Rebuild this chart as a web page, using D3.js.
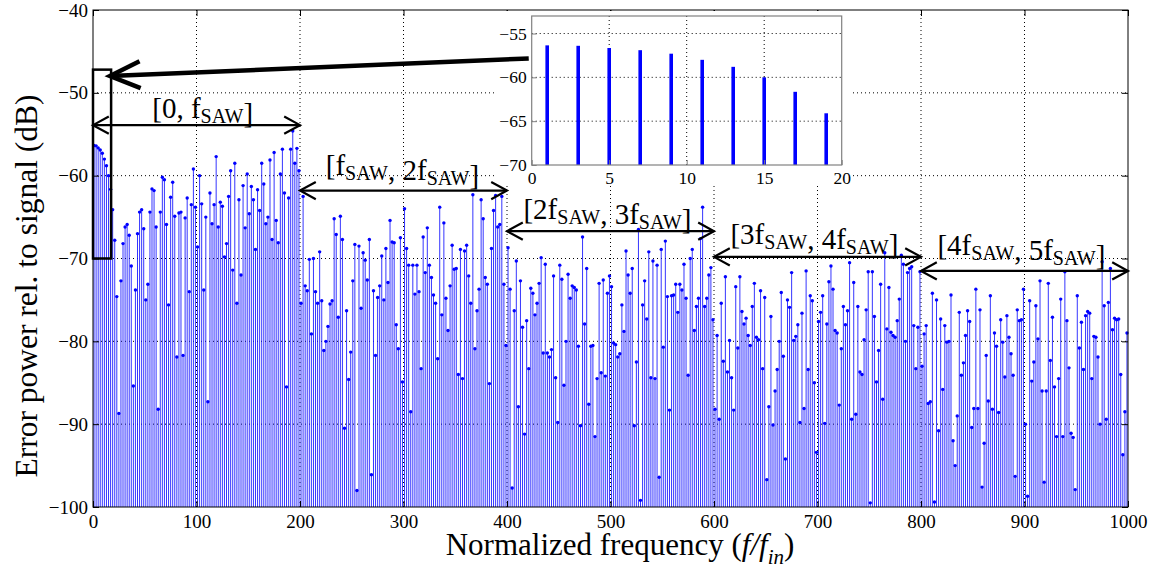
<!DOCTYPE html>
<html>
<head>
<meta charset="utf-8">
<script src="https://cdn.jsdelivr.net/npm/d3@7"></script>
<style>
  body { margin: 0; background: #fff; }
  svg text { font-family: "Liberation Serif", "Times New Roman", serif; fill: #000; }
</style>
</head>
<body>
<div class="canvas"></div>
<script>
// odd harmonic orders f/fin, 1..999
const harmonics = d3.range(1, 1000, 2);

// error power (dB), one array per fSAW band
const band1 = [-56.35,-56.4,-56.65,-56.9,-57.3,-58.0,-58.8,-60.0,-61.65,-64.1,
  -67.8,-74.6,-88.7,-72.7,-68.2,-66.2,-65.9,-67.2,-70.9,-85.4,
  -73.8,-67.0,-64.4,-64.1,-66.4,-75.0,-73.1,-64.4,-61.6,-61.8,
  -66.2,-88.2,-64.4,-60.2,-60.5,-65.9,-75.6,-62.6,-60.8,-64.9,
  -81.9,-64.5,-64.4,-81.7,-65.1,-62.7,-74.0,-63.5,-59.2,-63.8,
  -68.6,-60.0,-63.4,-73.8,-65.0,-87.3,-62.1,-65.8,-63.5,-57.7,
  -66.2,-63.2,-63.7,-69.8,-68.2,-62.5,-59.4,-71.4,-58.5,-75.4,
  -62.9,-72.0,-61.2,-66.3,-59.8,-64.6,-61.3,-62.9,-68.9,-61.7,
  -64.2,-58.5,-61.0,-65.8,-65.0,-58.1,-67.7,-57.2,-65.4,-68.1,
  -59.8,-56.8,-62.1,-85.5,-62.7,-56.8,-54.6,-58.5,-56.7,-59.4];
const band2 = [-75.4,-62.5,-73.3,-73.9,-70.1,-79.1,-70.0,-74.0,-75.4,-69.2,
  -75.1,-81.1,-80.0,-78.2,-75.5,-75.1,-65.2,-67.1,-77.1,-64.9,
  -67.7,-90.5,-76.3,-84.6,-81.3,-72.7,-68.3,-98.0,-68.5,-76.0,
  -69.3,-70.2,-72.6,-67.7,-96.1,-73.9,-81.7,-74.7,-73.3,-69.7,
  -75.0,-68.8,-72.9,-65.4,-68.0,-68.1,-78.0,-80.9,-67.5,-84.9,
  -64.0,-68.8,-70.8,-88.5,-70.8,-74.3,-70.8,-74.0,-83.3,-67.4,
  -71.7,-66.3,-70.8,-72.3,-74.4,-75.4,-82.1,-63.8,-76.8,-65.7,
  -74.8,-78.7,-73.3,-68.4,-71.3,-71.2,-84.0,-68.9,-84.5,-69.1,
  -68.4,-72.1,-75.4,-62.3,-80.9,-76.3,-73.7,-62.9,-65.2,-72.3,
  -73.1,-85.1,-68.8,-64.2,-62.4,-66.2,-65.9,-62.5,-73.1,-80.5];
const band3 = [-68.7,-73.7,-97.7,-76.3,-70.3,-87.9,
  -72.7,-78.3,-91.2,-77.5,-83.3,-73.6,-74.2,-76.8,-75.4,-73.0,
  -69.9,-81.4,-70.7,-81.4,-81.9,-81.0,-72.1,-84.4,-89.8,-70.8,
  -72.5,-85.3,-80.0,-71.9,-74.8,-73.3,-73.5,-73.8,-80.6,-90.2,
  -67.4,-77.9,-71.2,-87.6,-80.6,-80.5,-91.5,-84.5,-73.0,-83.8,
  -72.6,-84.2,-74.2,-72.1,-73.4,-80.2,-80.4,-81.9,-81.5,-75.6,
  -78.8,-69.1,-72.0,-74.2,-71.2,-90.2,-82.5,-66.5,-99.2,-75.6,
  -72.7,-77.3,-69.2,-84.4,-70.3,-84.5,-70.8,-96.4,-68.9,-80.7,
  -67.9,-74.6,-88.3,-74.5,-74.4,-73.1,-76.5,-73.1,-73.8,-70.7,
  -74.8,-84.1,-70.0,-68.9,-78.7,-75.8,-74.8,-67.6,-63.8,
  -75.8,-74.8,-72.0,-71.1,-77.4];
const band4 = [-88.2,-79.3,-89.4,-75.4,-82.4,-72.2,-83.7,-79.9,-84.4,-88.3,
  -73.4,-80.8,-72.2,-76.4,-77.9,-77.2,-79.3,-80.5,-75.8,-73.0,
  -79.5,-79.8,-73.9,-83.3,-74.7,-96.7,-87.9,-77.0,-90.1,-86.0,
  -83.4,-80.0,-74.1,-81.8,-94.2,-75.0,-75.9,-71.7,-79.9,-79.4,
  -78.0,-89.8,-76.6,-88.1,-71.5,-83.4,-74.5,-75.1,-85.0,-93.4,
  -77.6,-76.5,-74.5,-89.9,-77.9,-72.8,-70.9,-73.7,-78.7,-79.0,
  -87.7,-80.9,-75.8,-78.0,-76.3,-70.5,-89.4,-72.9,-88.8,-75.8,
  -83.7,-84.0,-79.8,-76.2,-71.6,-99.5,-71.6,-77.0,-84.9,-81.1,
  -73.1,-87.0,-69.3,-78.5,-73.5,-78.9,-79.3,-79.5,-77.5,-74.9,
  -69.6,-70.7,-80.0,-71.7,-71.2,-71.0,-78.1,-83.3,-78.3,-71.6];
const band5 = [-83.0,-79.1,-78.1,-87.5,-87.3,-74.2,-99.4,-75.0,-90.8,-77.3,
  -85.8,-78.1,-80.1,-80.0,-74.4,-92.0,-95.0,-89.0,-76.5,-84.1,
  -82.6,-79.3,-76.3,-77.6,-90.4,-88.1,-73.7,-88.1,-76.2,-97.6,
  -92.3,-81.7,-87.2,-74.5,-88.2,-79.0,-80.6,-88.6,-77.4,-80.1,
  -84.3,-76.9,-79.5,-81.5,-84.1,-96.3,-76.2,-77.5,-77.4,-73.7,
  -90.0,-98.7,-75.1,-84.8,-82.5,-75.7,-79.7,-72.7,-86.0,-97.0,
  -86.0,-73.0,-82.3,-77.1,-85.5,-91.5,-84.5,-74.9,-91.5,-71.6,
  -77.5,-83.2,-91.1,-91.6,-97.9,-74.5,-80.8,-77.7,-83.4,-76.9,
  -76.4,-76.6,-84.5,-79.4,-79.5,-81.9,-90.0,-70.4,-75.7,-89.4,
  -75.3,-71.2,-78.6,-77.2,-77.4,-77.3,-84.0,-93.7,-88.5,-79.0];

// zoomed view of the first harmonics
const insetHarmonics = [1, 3, 5, 7, 9, 11, 13, 15, 17, 19];
const insetValues = [-56.35,-56.4,-56.65,-56.9,-57.3,-58.0,-58.8,-60.0,-61.65,-64.1];

const xTicks = d3.range(0, 1001, 100);
const yTicks = d3.range(-100, -39, 10);
const insetXTicks = [0, 5, 10, 15, 20];
const insetYTicks = [-70, -65, -60, -55];

// band annotations: [lower, upper] multiples of fSAW
const bands = [[0, 1], [1, 2], [2, 3], [3, 4], [4, 5]];

const values = [...band1, ...band2, ...band3, ...band4, ...band5];
const data = harmonics.map((h, i) => ({ h: h, v: values[i] }));

const width = 1151, height = 569;
const margin = { top: 10, right: 23, bottom: 62, left: 93 };
const plotW = width - margin.left - margin.right;
const plotH = height - margin.top - margin.bottom;

const svg = d3.select('.canvas').append('svg')
  .attr('width', width)
  .attr('height', height);

const x = d3.scaleLinear().domain([0, 1000]).range([margin.left, margin.left + plotW]);
const y = d3.scaleLinear().domain([-100, -40]).range([margin.top + plotH, margin.top]);

// grid
const grid = svg.append('g');
grid.selectAll('line.gx')
  .data(xTicks.slice(1, -1))
  .enter().append('line')
    .attr('x1', d => x(d)).attr('x2', d => x(d))
    .attr('y1', y(-100)).attr('y2', y(-40))
    .attr('stroke', '#000').attr('stroke-width', 1)
    .attr('stroke-dasharray', '1,3');
grid.selectAll('line.gy')
  .data(yTicks.slice(1, -1))
  .enter().append('line')
    .attr('x1', x(0)).attr('x2', x(1000))
    .attr('y1', d => y(d)).attr('y2', d => y(d))
    .attr('stroke', '#000').attr('stroke-width', 1)
    .attr('stroke-dasharray', '1,3');

// stems
const stems = svg.append('g');
stems.selectAll('line')
  .data(data)
  .enter().append('line')
    .attr('x1', d => x(d.h)).attr('x2', d => x(d.h))
    .attr('y1', y(-100)).attr('y2', d => y(d.v))
    .attr('stroke', '#1a1aff').attr('stroke-width', 1)
    .attr('stroke-opacity', 0.88);
stems.selectAll('circle')
  .data(data)
  .enter().append('circle')
    .attr('cx', d => x(d.h)).attr('cy', d => y(d.v))
    .attr('r', 1.7)
    .attr('fill', '#0000ff');

// axes, MATLAB style ticks inward
const fmt = d3.format('d');
svg.append('g')
  .attr('transform', `translate(0,${y(-100)})`)
  .call(d3.axisBottom(x).tickValues(xTicks).tickSize(-6).tickPadding(8).tickFormat(fmt))
  .call(g => g.select('.domain').remove())
  .call(g => g.selectAll('text').style('font-size', '19px').attr('font-family', null));
svg.append('g')
  .attr('transform', `translate(0,${y(-40)})`)
  .call(d3.axisTop(x).tickValues(xTicks).tickSize(-6).tickFormat(''))
  .call(g => g.select('.domain').remove());
svg.append('g')
  .attr('transform', `translate(${x(0)},0)`)
  .call(d3.axisLeft(y).tickValues(yTicks).tickSize(-6).tickPadding(5).tickFormat(fmt))
  .call(g => g.select('.domain').remove())
  .call(g => g.selectAll('text').style('font-size', '19px').attr('font-family', null));
svg.append('g')
  .attr('transform', `translate(${x(1000)},0)`)
  .call(d3.axisRight(y).tickValues(yTicks).tickSize(-6).tickFormat(''))
  .call(g => g.select('.domain').remove());

svg.append('rect')
  .attr('x', x(0)).attr('y', y(-40))
  .attr('width', x(1000) - x(0)).attr('height', y(-100) - y(-40))
  .attr('fill', 'none').attr('stroke', '#000').attr('stroke-width', 1);

// axis titles
svg.append('text')
  .attr('transform', 'translate(37,286) rotate(-90)')
  .attr('text-anchor', 'middle')
  .style('font-size', '31.5px')
  .text('Error power rel. to signal (dB)');

const xt = svg.append('text')
  .attr('x', 620).attr('y', 555)
  .attr('text-anchor', 'middle')
  .style('font-size', '31px');
xt.append('tspan').text('Normalized frequency (');
xt.append('tspan').style('font-style', 'italic').text('f/f');
xt.append('tspan').style('font-style', 'italic').style('font-size', '21px').attr('dy', 9).text('in');
xt.append('tspan').attr('dy', -9).text(')');

// open arrow head helper
function arrowHead(g, tx, ty, dx, dy, len, ang, sw) {
  const a = Math.atan2(dy, dx);
  const p1 = [tx + len * Math.cos(a + ang), ty + len * Math.sin(a + ang)];
  const p2 = [tx + len * Math.cos(a - ang), ty + len * Math.sin(a - ang)];
  g.append('path')
    .attr('d', `M${p1[0]},${p1[1]}L${tx},${ty}L${p2[0]},${p2[1]}`)
    .attr('fill', 'none').attr('stroke', '#000')
    .attr('stroke-width', sw).attr('stroke-linejoin', 'miter');
}

// band double arrows + labels
const ann = svg.append('g');
const arrowY = [-53.9, -61.8, -66.7, -69.8, -71.5];
const labelX = [106, 299, 497, 697, 897];
const labelY = [-53.0, -59.9, -65.2, -68.2, -69.6];
bands.forEach((b, i) => {
  const x1 = x(b[0] * 200), x2 = x(b[1] * 200), yy = y(arrowY[i]);
  ann.append('line')
    .attr('x1', x1).attr('x2', x2).attr('y1', yy).attr('y2', yy)
    .attr('stroke', '#000').attr('stroke-width', 2.2);
  arrowHead(ann, x1, yy, 1, 0, 18, 0.5, 2.2);
  arrowHead(ann, x2, yy, -1, 0, 18, 0.5, 2.2);

  const t = ann.append('text')
    .attr('x', x(labelX[i])).attr('y', y(labelY[i]))
    .attr('text-anchor', 'middle')
    .style('font-size', '29px');
  const part = (k, prefix) => {
    if (k === 0) { t.append('tspan').text(prefix + '0'); return; }
    t.append('tspan').text(prefix + (k === 1 ? '' : k) + 'f');
    t.append('tspan').attr('dy', 5).style('font-size', '20px').text('SAW');
    t.append('tspan').attr('dy', -5).text('');
  };
  part(b[0], '[');
  t.append('tspan').text(', ');
  part(b[1], '');
  t.append('tspan').text(']');
});

// box around the zoomed region
ann.append('rect')
  .attr('x', x(0)).attr('y', y(-47.2))
  .attr('width', x(17.5) - x(0)).attr('height', y(-70) - y(-47.2))
  .attr('fill', 'none').attr('stroke', '#000').attr('stroke-width', 2.5);

// inset
const ix = d3.scaleLinear().domain([0, 20]).range([531.7, 841.7]);
const iy = d3.scaleLinear().domain([-70, -53]).range([165, 16]);
const inset = svg.append('g');
inset.append('rect')
  .attr('x', 497).attr('y', 11).attr('width', 353).attr('height', 173)
  .attr('fill', '#fff');

inset.selectAll('line.igx')
  .data(insetXTicks.slice(1, -1))
  .enter().append('line')
    .attr('x1', d => ix(d)).attr('x2', d => ix(d))
    .attr('y1', iy(-70)).attr('y2', iy(-53))
    .attr('stroke', '#000').attr('stroke-dasharray', '1,3');
inset.selectAll('line.igy')
  .data(insetYTicks.slice(1))
  .enter().append('line')
    .attr('x1', ix(0)).attr('x2', ix(20))
    .attr('y1', d => iy(d)).attr('y2', d => iy(d))
    .attr('stroke', '#000').attr('stroke-dasharray', '1,3');

inset.selectAll('line.istem')
  .data(insetHarmonics.map((h, i) => ({ h: h, v: insetValues[i] })))
  .enter().append('line')
    .attr('x1', d => ix(d.h)).attr('x2', d => ix(d.h))
    .attr('y1', iy(-70)).attr('y2', d => iy(d.v))
    .attr('stroke', '#0000ff').attr('stroke-width', 3.6)
    .attr('stroke-linecap', 'butt');

inset.append('g')
  .attr('transform', `translate(0,${iy(-70)})`)
  .call(d3.axisBottom(ix).tickValues(insetXTicks).tickSize(-5).tickPadding(7).tickFormat(fmt))
  .call(g => g.select('.domain').remove())
  .call(g => g.selectAll('line').attr('stroke', '#808080'))
  .call(g => g.selectAll('text').style('font-size', '17.5px').attr('font-family', null));
inset.append('g')
  .attr('transform', `translate(${ix(0)},0)`)
  .call(d3.axisLeft(iy).tickValues(insetYTicks).tickSize(-5).tickPadding(5).tickFormat(fmt))
  .call(g => g.select('.domain').remove())
  .call(g => g.selectAll('line').attr('stroke', '#808080'))
  .call(g => g.selectAll('text').style('font-size', '17.5px').attr('font-family', null));
inset.append('rect')
  .attr('x', ix(0)).attr('y', iy(-53))
  .attr('width', ix(20) - ix(0)).attr('height', iy(-70) - iy(-53))
  .attr('fill', 'none').attr('stroke', '#808080').attr('stroke-width', 1.2);

// thick pointer from the inset to the boxed region (drawn above the inset)
const pointer = svg.append('g');
const tip = [x(16.4), y(-47.97)];
const tail = [x(421), y(-45.85)];
pointer.append('line')
  .attr('x1', tail[0]).attr('y1', tail[1]).attr('x2', tip[0]).attr('y2', tip[1])
  .attr('stroke', '#000').attr('stroke-width', 4.5);
arrowHead(pointer, tip[0], tip[1], tail[0] - tip[0], tail[1] - tip[1], 33, 0.42, 4.5);
</script>
</body>
</html>
